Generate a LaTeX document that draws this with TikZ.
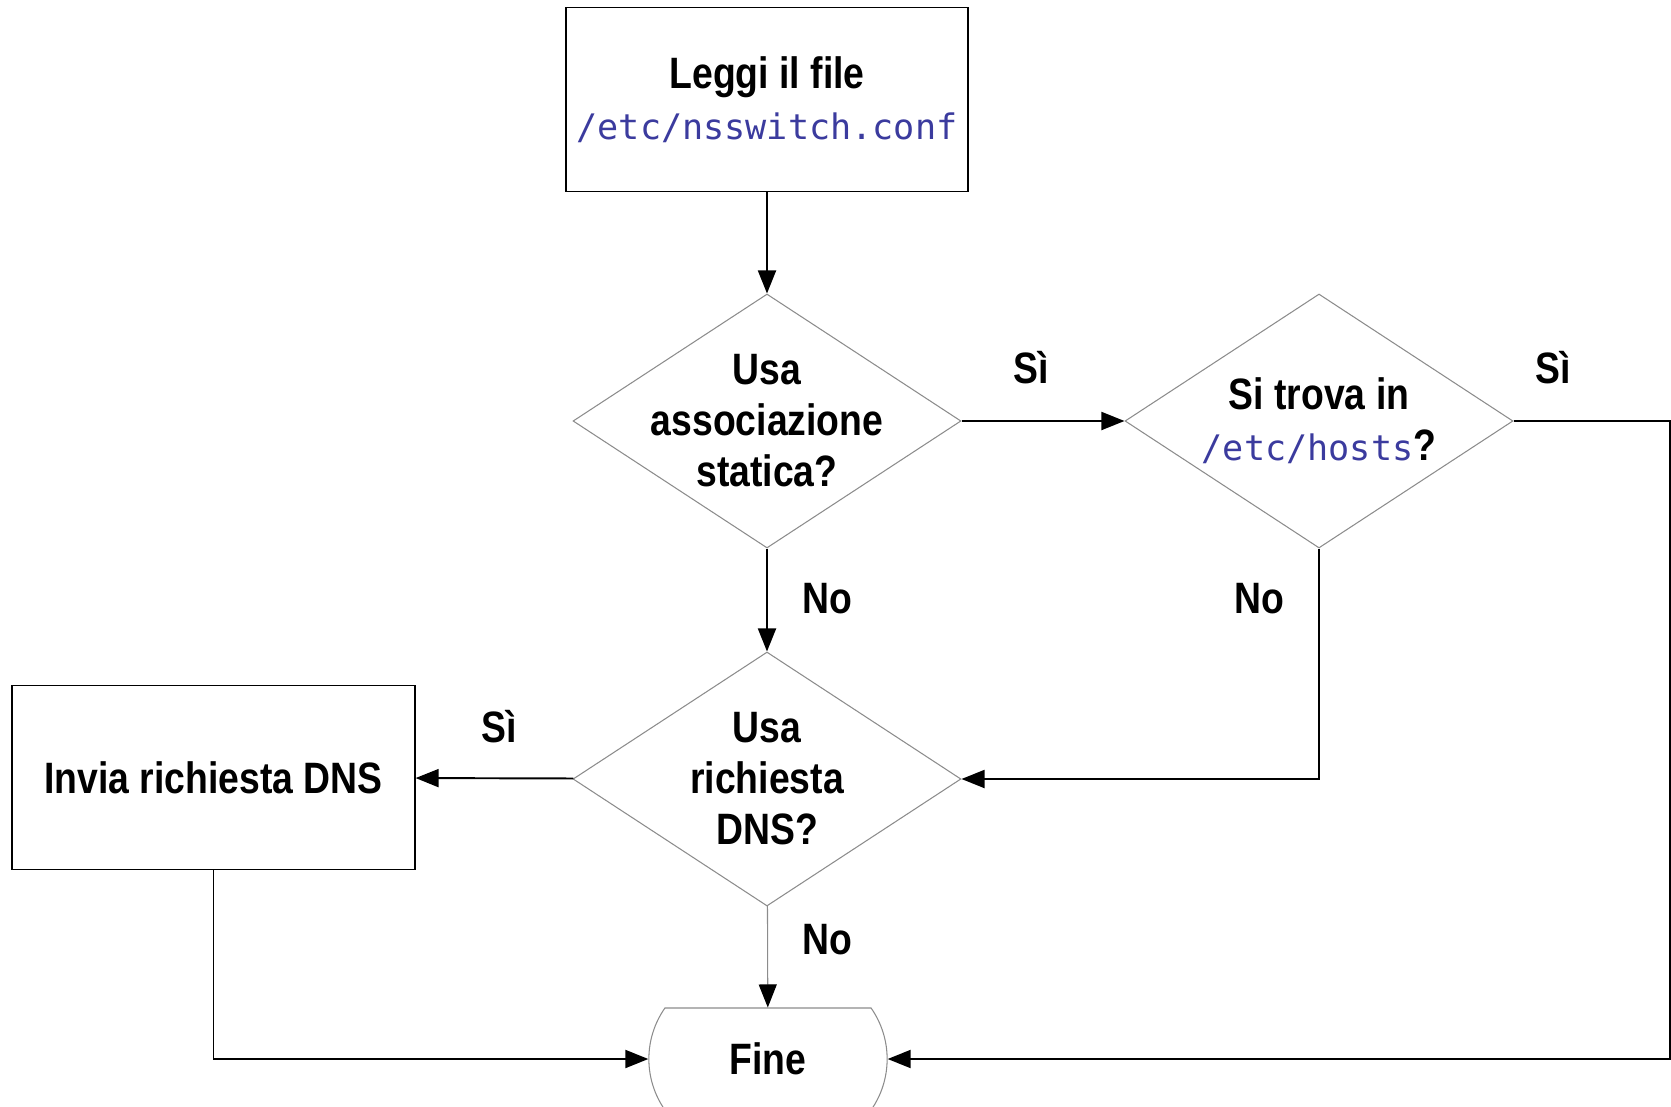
\documentclass[tikz,border=0pt]{standalone}
\usepackage{fontspec}
\setmainfont{Liberation Sans}[FakeStretch=0.85]
\setmonofont{DejaVu Sans Mono}
\definecolor{pathblue}{HTML}{3B3B9E}
\definecolor{shapegray}{HTML}{8C8C8C}
\usetikzlibrary{shapes.geometric,shapes.misc,arrows.meta,positioning}

\newcommand{\flowfont}{\fontsize{25}{29}\selectfont\bfseries}
\newcommand{\fpath}[1]{{\fontsize{20}{29}\selectfont\mdseries\ttfamily\color{pathblue}#1}}

\begin{document}
\begin{tikzpicture}[
    box/.style={rectangle, draw=black, line width=1pt, minimum width=8.05cm,
                minimum height=3.68cm, align=center, font=\flowfont},
    decision/.style={diamond, draw=shapegray, line width=0.6pt, minimum width=7.76cm,
                minimum height=5.08cm, inner sep=-0.8cm, align=center, font=\flowfont},
    terminal/.style={rounded rectangle, rounded rectangle arc length=70, draw=shapegray,
                line width=0.6pt, minimum width=5cm, minimum height=2.04cm, font=\flowfont},
    lbl/.style={font=\flowfont},
    flow/.style={-{Triangle[length=0.46cm,width=0.36cm,color=black]}, line width=1.1pt},
    thinflow/.style={flow, line width=0.6pt, draw=shapegray}
]
    \useasboundingbox (0,0) rectangle (33.42,-22.14);

    \node[box] (read) at (15.34,-1.99) {Leggi il file\\\fpath{/etc/nsswitch.conf}};
    \node[decision] (static) at (15.34,-8.42) {Usa\\associazione\\statica?};
    \node[decision] (hosts) at (26.38,-8.42) {Si trova in\\\fpath{/etc/hosts}?};
    \node[decision] (dns) at (15.34,-15.58) {Usa\\richiesta\\DNS?};
    \node[box] (send) at (4.27,-15.55) {Invia richiesta DNS};
    \node[terminal] (fine) at (15.36,-21.18) {Fine};
    \coordinate (edge) at (33.40,-21.18);

    \draw[flow] (read) -- (static);
    \draw[flow] (static) -- (hosts);
    \draw[flow] (static) -- (dns);
    \draw[flow] (dns) -- (send);
    \draw[thinflow] (dns) -- (fine);
    \draw[flow] (hosts.south) |- (dns.east);
    \draw[flow] (send.south) |- (fine.west);
    \draw[flow] (hosts.east) -| (edge) -- (fine.east);

    \node[lbl] (yes1) at (20.62,-7.36) {Sì};
    \node[lbl] (yes2) at (31.06,-7.36) {Sì};
    \node[lbl] (no1) at (16.54,-11.98) {No};
    \node[lbl] (no2) at (25.18,-11.98) {No};
    \node[lbl] (yes3) at (9.98,-14.54) {Sì};
    \node[lbl] (no3) at (16.54,-18.80) {No};
\end{tikzpicture}
\end{document}
